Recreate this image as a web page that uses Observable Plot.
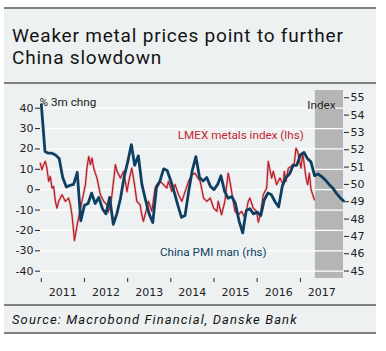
<!DOCTYPE html>
<html><head><meta charset="utf-8">
<script src="https://cdn.jsdelivr.net/npm/d3@7"></script>
<script src="https://cdn.jsdelivr.net/npm/@observablehq/plot@0.6"></script>
<style>
html,body{margin:0;padding:0;background:#fff;}
#panel{position:absolute;left:4px;top:7px;width:372px;height:327px;background:#eef1f2;}
.rule{position:absolute;left:0;width:372px;height:2px;background:#808080;}
#title{position:absolute;left:8px;top:18px;font-family:Roboto,sans-serif;font-size:19px;letter-spacing:0.8px;line-height:22px;color:#141414;white-space:nowrap;}
#chart{position:absolute;left:0;top:78px;}
#source{position:absolute;left:8px;top:305px;font-family:Roboto,sans-serif;font-style:italic;font-size:13px;letter-spacing:1.1px;line-height:16px;color:#141414;white-space:nowrap;}
</style></head>
<body>
<div id="panel">
  <div class="rule" style="top:0"></div>
  <div id="title">Weaker metal prices point to further<br>China slowdown</div>
  <div class="rule" style="top:75px"></div>
  <div id="chart"></div>
  <div class="rule" style="top:297px"></div>
  <div id="source">Source: Macrobond Financial, Danske Bank</div>
  <div class="rule" style="top:325px"></div>
</div>
<script>
// ---- data ----
const leftTicks = [-40, -30, -20, -10, 0, 10, 20, 30, 40];
const rightTicks = [45, 46, 47, 48, 49, 50, 51, 52, 53, 54, 55];
const yearTicks = ["2011-01-01","2012-01-01","2013-01-01","2014-01-01","2015-01-01","2016-01-01","2017-01-01"];
const yearLabels = ["2011","2012","2013","2014","2015","2016","2017"];
const leftDomain = [-43.6, 48.7];
const rightDomain = [44.57, 55.42];
const xDomain = ["2010-12-25", "2018-01-01"];
const shadeStart = "2017-05-08";
const shadeEnd = "2018-01-01";

const pmiStart = "2011-01-01";
const pmiValues = [
  54.6, 51.9, 51.8, 51.8, 51.7, 51.5, 50.4, 49.85, 49.95, 50.0, 50.7, 47.9,
  48.8, 48.9, 49.5, 48.9, 49.25, 48.6, 48.3, 49.25, 47.7, 48.3, 49.2, 50.4,
  51.3, 52.3, 51.1, 51.65, 50.0, 49.1, 48.3, 47.8, 49.8, 50.2, 50.9, 50.8,
  50.2, 49.5, 48.8, 48.1, 48.2, 49.6, 50.8, 51.6, 50.4, 50.2, 50.4, 49.9,
  49.7, 50.0, 50.5, 49.6, 49.2, 49.3, 48.9, 47.9, 47.2, 48.5, 48.6, 48.3,
  48.4, 48.2, 49.1, 49.5, 49.4, 49.0, 48.7, 49.9, 50.4, 50.6, 51.1, 51.1,
  51.7, 51.85, 51.5, 51.3, 50.5, 50.6, 50.45, 50.25, 50.0, 49.8, 49.5, 49.25,
  49.05
];

const lmexDates = [
  "2010-12-23","2011-01-06","2011-01-20","2011-02-04","2011-02-17","2011-03-04","2011-03-18","2011-04-01",
  "2011-04-15","2011-04-30","2011-05-13","2011-05-28","2011-06-25","2011-07-23","2011-08-20","2011-09-04",
  "2011-09-17","2011-10-04","2011-10-08","2011-11-04","2011-12-11","2012-01-09","2012-01-22","2012-02-06",
  "2012-02-20","2012-03-05","2012-03-19","2012-04-16","2012-05-15","2012-06-12","2012-07-10","2012-07-20",
  "2012-08-08","2012-08-21","2012-09-19","2012-10-03","2012-10-31","2012-11-28","2012-12-26","2013-01-10",
  "2013-02-04","2013-02-19","2013-03-04","2013-03-19","2013-04-16","2013-04-30","2013-05-14","2013-05-28",
  "2013-06-26","2013-07-24","2013-08-21","2013-09-04","2013-10-02","2013-10-31","2013-11-28","2013-12-12",
  "2014-01-09","2014-02-06","2014-03-07","2014-04-04","2014-05-02","2014-05-31","2014-06-28","2014-07-26",
  "2014-08-09","2014-09-06","2014-10-05","2014-11-02","2014-11-30","2014-12-29","2015-01-26","2015-02-06",
  "2015-03-06","2015-04-03","2015-05-01","2015-05-16","2015-05-30","2015-06-13","2015-06-27","2015-07-25",
  "2015-08-23","2015-09-20","2015-10-18","2015-11-01","2015-11-29","2015-12-28","2016-01-11","2016-01-29",
  "2016-02-22","2016-03-22","2016-04-04","2016-05-03","2016-05-17","2016-06-14","2016-07-12","2016-08-09",
  "2016-08-18","2016-09-01","2016-09-21","2016-10-14","2016-11-11","2016-11-25","2016-12-09","2016-12-23",
  "2017-01-06","2017-01-21","2017-02-03","2017-02-18","2017-03-04","2017-03-18","2017-04-01","2017-04-16",
  "2017-04-29"
];
const lmexValues = [
  13.0, 9.8, 12.3, 13.9, 10.6, 4.1, 6.5, 0.8,
  1.6, -5.7, -9.0, -5.7, -2.5, -5.7, -4.1, -7.4,
  -12.3, -22.0, -25.0, -16.0, -5.7, 2.5, 10.6, 16.3,
  12.3, 15.5, 10.6, 5.7, -2.5, -5.7, -7.4, -11.0,
  -7.4, -2.5, 12.3, 9.0, 5.7, 9.0, -1.0, 4.1,
  10.6, 5.7, 0.8, -5.7, -7.4, -12.3, -15.5, -12.3,
  -5.7, -10.6, 0.8, 2.5, 4.1, 2.5, 0.8, 4.1,
  -0.8, 2.5, -2.5, -5.7, -0.8, 4.1, 7.4, 8.1,
  6.5, 4.1, -4.1, -5.7, -4.1, -9.0, -10.6, -5.7,
  -12.3, -5.7, 8.1, 4.1, -0.8, -5.7, -10.6, -12.3,
  -10.6, -13.9, -5.7, -4.1, -9.0, -10.6, -16.0, -12.0,
  -2.5, 0.8, 13.9, 5.7, 9.0, 2.5, 5.7, 2.5,
  9.0, 4.1, 10.6, 11.4, 13.0, 20.4, 18.8, 14.7,
  10.6, 17.9, 12.3, 5.7, 2.5, 8.1, 0.0, -2.5,
  -4.9
];

const labels = [
  {text: "LMEX metals index (lhs)", date: "2014-03-01", value: 26.8, color: "#c0272d"},
  {text: "China PMI man (rhs)", date: "2013-10-01", value: -30.6, color: "#0e3f62"}
];

// ---- build ----
const parse = d3.utcParse("%Y-%m-%d");
const toLeft = d3.scaleLinear().domain(rightDomain).range(leftDomain);
const pmi = pmiValues.map((v, i) => ({date: d3.utcMonth.offset(parse(pmiStart), i), value: toLeft(v)}));
const lmex = lmexDates.map((d, i) => ({date: parse(d), value: lmexValues[i]}));
const rightMap = new Map(rightTicks.map(r => [toLeft(r), r]));
const annoFont = {fontFamily: "Roboto, sans-serif", fontSize: 11.7};

const chart = Plot.plot({
  width: 372,
  height: 218,
  marginLeft: 36,
  marginRight: 33,
  marginTop: 5,
  marginBottom: 25,
  style: {background: "transparent", fontFamily: "'DejaVu Sans', sans-serif", fontSize: "11px", color: "#222"},
  x: {type: "utc", domain: xDomain.map(parse)},
  y: {domain: leftDomain},
  marks: [
    Plot.rect([{x1: parse(shadeStart), x2: parse(shadeEnd)}], {x1: "x1", x2: "x2", fill: "#b5b5b5"}),
    Plot.gridY(leftTicks, {stroke: "#ffffff", strokeOpacity: 1, strokeWidth: 1.3}),
    Plot.axisY(leftTicks, {anchor: "left", tickSize: 5, tickPadding: 2, tickFormat: d => String(d), label: null, fontSize: 11}),
    Plot.axisY(rightTicks.map(toLeft), {anchor: "right", tickSize: 5, tickPadding: 2, tickFormat: d => String(rightMap.get(d)), label: null, fontSize: 11}),
    Plot.axisX(yearTicks.map(parse), {tickSize: 4, tickFormat: () => "", label: null}),
    Plot.axisX(yearLabels.map(y => parse(y + "-07-02")), {tickSize: 0, tickPadding: 10, tickFormat: d3.utcFormat("%Y"), label: null, fontSize: 11}),
    Plot.line(lmex, {x: "date", y: "value", stroke: "#d9868a", strokeWidth: 2.4, strokeOpacity: 0.6}),
    Plot.line(lmex, {x: "date", y: "value", stroke: "#b8151f", strokeWidth: 1.1}),
    Plot.line(pmi, {x: "date", y: "value", stroke: "#0e3f62", strokeWidth: 2.8}),
    Plot.text(labels, {x: d => parse(d.date), y: "value", text: "text", fill: "color", textAnchor: "start", ...annoFont}),
    Plot.text(["% 3m chng"], {frameAnchor: "top-left", textAnchor: "start", dx: -1, dy: 7, fill: "#222", ...annoFont}),
    Plot.text(["Index"], {frameAnchor: "top-right", textAnchor: "end", dx: -8, dy: 10, fill: "#222", ...annoFont})
  ]
});
document.getElementById("chart").appendChild(chart);
</script>
</body></html>
